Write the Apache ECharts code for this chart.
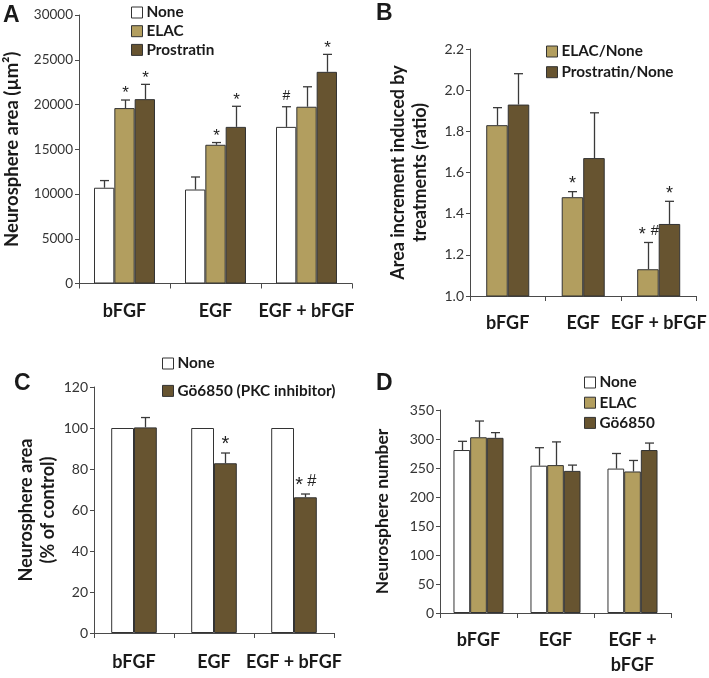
<!DOCTYPE html>
<html><head><meta charset="utf-8">
<script src="https://cdn.jsdelivr.net/npm/echarts@6/dist/echarts.min.js"></script>
<style>html,body{margin:0;padding:0;background:#fff}#c{width:709px;height:678px}</style>
</head><body><div id="c"></div>
<script>
// ---------- data ----------
const catsABC = ['bFGF', 'EGF', 'EGF + bFGF'];
const catsD = ['bFGF', 'EGF', 'EGF +\nbFGF'];

// Panel A: neurosphere area (µm²)
const aNone = [10700, 10500, 17500];
const aNoneErr = [800, 1400, 2250];
const aNoneSig = ['', '', '#'];
const aElac = [19600, 15500, 19750];
const aElacErr = [900, 250, 2230];
const aElacSig = ['*', '*', ''];
const aPros = [20600, 17500, 23650];
const aProsErr = [1650, 2300, 1950];
const aProsSig = ['*', '*', '*'];
const aAxis = [0, 30000, 5000];

// Panel B: ratio
const bElac = [1.83, 1.48, 1.13];
const bElacErr = [0.085, 0.027, 0.13];
const bElacSig = ['', '*', '* #'];
const bPros = [1.93, 1.67, 1.35];
const bProsErr = [0.15, 0.22, 0.11];
const bProsSig = ['', '', '*'];
const bAxis = [1.0, 2.2, 0.2];

// Panel C: % of control
const cNone = [100, 100, 100];
const cNoneErr = [0, 0, 0];
const cNoneSig = ['', '', ''];
const cGo = [100.3, 82.8, 66.2];
const cGoErr = [4.8, 5.0, 1.6];
const cGoSig = ['', '*', '* #'];
const cAxis = [0, 120, 20];

// Panel D: neurosphere number
const dNone = [281, 254, 249];
const dNoneErr = [15, 31, 26];
const dElac = [303, 255, 244];
const dElacErr = [28, 40, 19];
const dGo = [302, 245, 281];
const dGoErr = [9, 10, 12];
const dNoSig = ['', '', ''];
const dAxis = [0, 350, 50];

// ---------- style ----------
const WHITE = '#ffffff', TAN = '#b29e5f', BROWN = '#675430';
const FONT = 'Lato';
const AXC = '#4a4a4a';

function barSeries(name, xi, data, color, gap) {
  return {
    type: 'bar', name, xAxisIndex: xi, yAxisIndex: xi, data,
    barGap: '0%', barCategoryGap: gap, clip: true,
    itemStyle: { color, borderColor: '#333', borderWidth: 1 },
    emphasis: { disabled: true }, z: 2
  };
}

function errSeries(xi, vals, errs, sigs, idx, n, gap, sigSize, sigOff) {
  const g = parseFloat(gap) / 100;
  return {
    type: 'custom', xAxisIndex: xi, yAxisIndex: xi, z: 5, silent: true,
    data: vals.map((v, i) => [i, v, errs[i]]),
    encode: { x: 0, y: 1 },
    renderItem(params, api) {
      const ci = api.value(0), v = api.value(1), e = api.value(2);
      const sig = sigs[params.dataIndex];
      const p = api.coord([ci, v]);
      const band = api.size([1, 0])[0];
      const bw = band * (1 - g) / n;
      const x = Math.round(p[0] + (idx - (n - 1) / 2) * bw) + 0.5;
      const yTop = p[1];
      const yCap = api.coord([ci, v + e])[1];
      const ch = [];
      const ls = { stroke: '#3a3a3a', lineWidth: 1.3 };
      if (e > 0) {
        ch.push({ type: 'line', shape: { x1: x, y1: yTop, x2: x, y2: yCap }, style: ls });
        ch.push({ type: 'line', shape: { x1: x - 4.5, y1: yCap, x2: x + 4.5, y2: yCap }, style: ls });
      }
      if (sig) {
        const toks = sig.split(' ');
        const m = toks.length;
        toks.forEach((t, k) => {
          const isStar = t === '*';
          const fs = isStar ? sigSize : sigSize * 0.82;
          const corr = isStar ? 0.27 * fs : 0.04 * fs;
          ch.push({ type: 'text', style: {
            text: t, x: x + (k - (m - 1) / 2) * 12.5, y: yCap - sigOff + corr,
            align: 'center', verticalAlign: 'middle',
            fontFamily: 'Liberation Sans', fontSize: fs, fill: '#222'
          }});
        });
      }
      return { type: 'group', children: ch };
    }
  };
}

function xAxis(gi, cats, margin, fs, lh) {
  return {
    type: 'category', gridIndex: gi, data: cats,
    axisLine: { onZero: false, lineStyle: { color: AXC, width: 1 } },
    axisTick: { show: true, length: 5, lineStyle: { color: AXC } },
    axisLabel: { margin, fontFamily: FONT, fontWeight: 'bold', fontSize: fs, color: '#1a1a1a', lineHeight: lh, interval: 0 },
    splitLine: { show: false }
  };
}
function yAxis(gi, ax, name, gap, nfs, lfs, fmt) {
  return {
    type: 'value', gridIndex: gi, min: ax[0], max: ax[1], interval: ax[2],
    name, nameLocation: 'middle', nameGap: gap, nameRotate: 90,
    nameTextStyle: { fontFamily: FONT, fontWeight: 'bold', fontSize: nfs, color: '#1a1a1a', lineHeight: 22 },
    axisLine: { show: true, lineStyle: { color: AXC, width: 1 } },
    axisTick: { show: true, length: 4, lineStyle: { color: AXC } },
    axisLabel: { margin: 6, fontFamily: FONT, fontSize: lfs, color: '#333', formatter: fmt },
    splitLine: { show: false }
  };
}
function legend(names, left, top, gap) {
  return {
    data: names, orient: 'vertical', left, top, padding: 0, itemGap: gap,
    icon: 'rect', itemWidth: 11, itemHeight: 11, selectedMode: false,
    itemStyle: { borderColor: '#333', borderWidth: 1 },
    textStyle: { fontFamily: FONT, fontWeight: 'bold', fontSize: 15.3, color: '#1a1a1a', padding: [0, 0, 0, -1] }
  };
}
const letter = (t, left, top) => ({ text: t, left, top, padding: 0,
  textStyle: { fontFamily: 'Liberation Sans', fontWeight: 'bold', fontSize: 23, color: '#1a1a1a' } });

const gA = '33%', gB = '43%', gC = '43%', gD = '35%';
const intFmt = v => String(v);

const option = {
  animation: false,
  backgroundColor: '#fff',
  title: [letter('A', 3, 4), letter('B', 376, 2), letter('C', 14, 372), letter('D', 376, 372)],
  legend: [
    legend(['None', 'ELAC', 'Prostratin'], 131, 5, 3.7),
    legend(['ELAC/None', 'Prostratin/None'], 546, 44, 5.7),
    legend(['None ', 'Gö6850 (PKC inhibitor)'], 162, 356, 12.4),
    legend(['None  ', 'ELAC ', 'Gö6850'], 584, 375, 5.2)
  ],
  grid: [
    { left: 79, top: 15, width: 273, height: 268.5 },
    { left: 470, top: 49, width: 230, height: 247 },
    { left: 94, top: 387, width: 240, height: 246 },
    { left: 440, top: 410, width: 231, height: 211 }
  ],
  xAxis: [
    xAxis(0, catsABC, 17, 18, 22),
    xAxis(1, catsABC, 16, 18, 22),
    xAxis(2, catsABC, 18, 18, 22),
    xAxis(3, catsD, 15, 18, 25)
  ],
  yAxis: [
    yAxis(0, aAxis, 'Neurosphere area (µm²)', 56, 18.5, 13.5, intFmt),
    yAxis(1, bAxis, 'Area increment induced by\ntreatments (ratio)', 39, 18, 14, v => v.toFixed(1)),
    yAxis(2, cAxis, 'Neurosphere area\n(% of control)', 35, 18, 14, intFmt),
    yAxis(3, dAxis, 'Neurosphere number', 47, 17.5, 14, intFmt)
  ],
  series: [
    barSeries('None', 0, aNone, WHITE, gA),
    barSeries('ELAC', 0, aElac, TAN, gA),
    barSeries('Prostratin', 0, aPros, BROWN, gA),
    errSeries(0, aNone, aNoneErr, aNoneSig, 0, 3, gA, 17, 11),
    errSeries(0, aElac, aElacErr, aElacSig, 1, 3, gA, 17, 11),
    errSeries(0, aPros, aProsErr, aProsSig, 2, 3, gA, 17, 11),

    barSeries('ELAC/None', 1, bElac, TAN, gB),
    barSeries('Prostratin/None', 1, bPros, BROWN, gB),
    errSeries(1, bElac, bElacErr, bElacSig, 0, 2, gB, 18, 12),
    errSeries(1, bPros, bProsErr, bProsSig, 1, 2, gB, 18, 12),

    barSeries('None ', 2, cNone, WHITE, gC),
    barSeries('Gö6850 (PKC inhibitor)', 2, cGo, BROWN, gC),
    errSeries(2, cNone, cNoneErr, cNoneSig, 0, 2, gC, 20, 13.5),
    errSeries(2, cGo, cGoErr, cGoSig, 1, 2, gC, 20, 13.5),

    barSeries('None  ', 3, dNone, WHITE, gD),
    barSeries('ELAC ', 3, dElac, TAN, gD),
    barSeries('Gö6850', 3, dGo, BROWN, gD),
    errSeries(3, dNone, dNoneErr, dNoSig, 0, 3, gD, 16, 10),
    errSeries(3, dElac, dElacErr, dNoSig, 1, 3, gD, 16, 10),
    errSeries(3, dGo, dGoErr, dNoSig, 2, 3, gD, 16, 10)
  ]
};
const chart = echarts.init(document.getElementById('c'), null, { renderer: 'canvas' });
chart.setOption(option);
</script></body></html>
